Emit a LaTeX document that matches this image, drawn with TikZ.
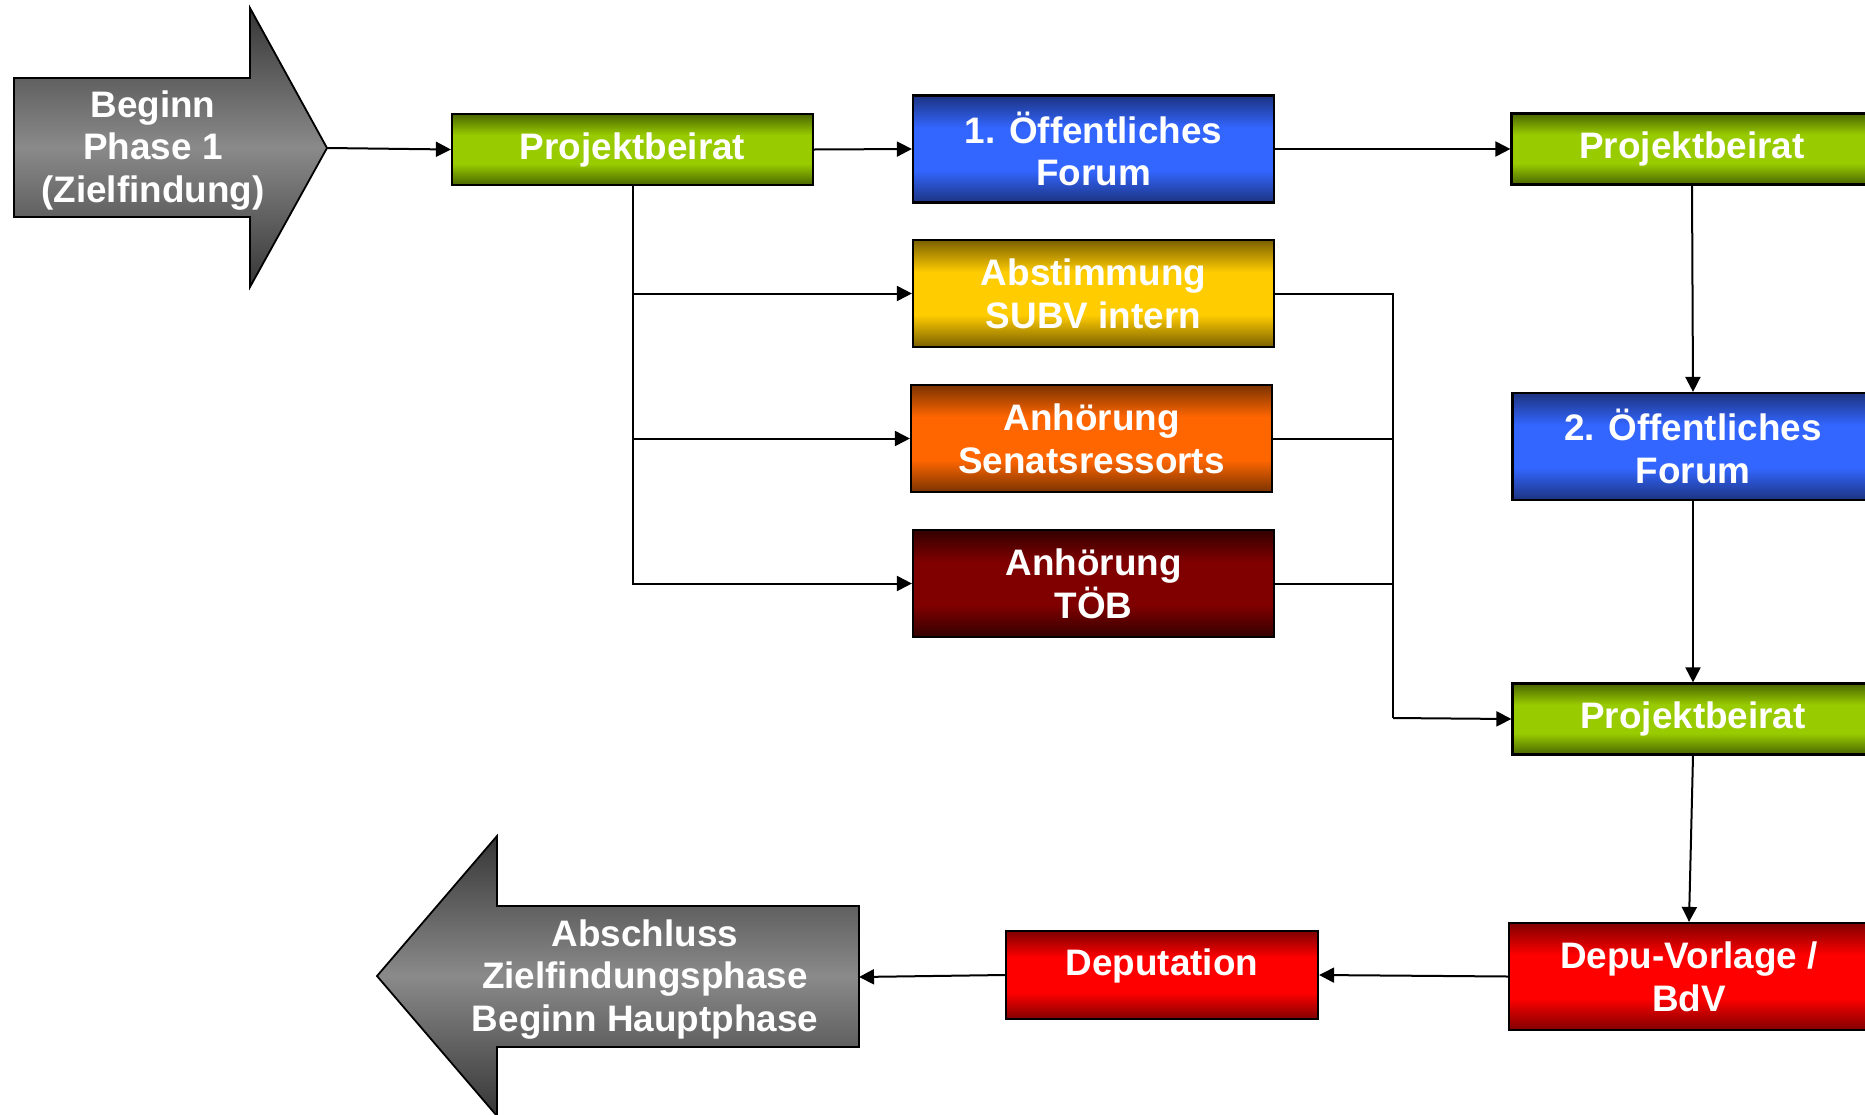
\documentclass[tikz,border=0pt]{standalone}
\usepackage{fontspec}
\setmainfont{Liberation Sans}
\usetikzlibrary{arrows.meta}
\definecolor{gD}{HTML}{4A6600}\definecolor{gM}{HTML}{99CC00}
\definecolor{bD}{HTML}{1C3380}\definecolor{bM}{HTML}{3366FF}
\definecolor{yD}{HTML}{7A6000}\definecolor{yM}{HTML}{FFCC00}
\definecolor{oD}{HTML}{7A3300}\definecolor{oM}{HTML}{FF6600}
\definecolor{dD}{HTML}{330000}\definecolor{dM}{HTML}{800000}
\definecolor{rD}{HTML}{800000}\definecolor{rM}{HTML}{FF0000}
\definecolor{aD}{HTML}{363636}\definecolor{aM}{HTML}{8A8A8A}
\pgfdeclareverticalshading{shgreen}{100bp}{color(0bp)=(gD); color(25bp)=(gD); color(40bp)=(gM); color(60bp)=(gM); color(75bp)=(gD); color(100bp)=(gD)}
\pgfdeclareverticalshading{shblue}{100bp}{color(0bp)=(bD); color(25bp)=(bD); color(40bp)=(bM); color(60bp)=(bM); color(75bp)=(bD); color(100bp)=(bD)}
\pgfdeclareverticalshading{shyellow}{100bp}{color(0bp)=(yD); color(25bp)=(yD); color(40bp)=(yM); color(60bp)=(yM); color(75bp)=(yD); color(100bp)=(yD)}
\pgfdeclareverticalshading{shorange}{100bp}{color(0bp)=(oD); color(25bp)=(oD); color(40bp)=(oM); color(60bp)=(oM); color(75bp)=(oD); color(100bp)=(oD)}
\pgfdeclareverticalshading{shdred}{100bp}{color(0bp)=(dD); color(25bp)=(dD); color(40bp)=(dM); color(60bp)=(dM); color(75bp)=(dD); color(100bp)=(dD)}
\pgfdeclareverticalshading{shred}{100bp}{color(0bp)=(rD); color(25bp)=(rD); color(40bp)=(rM); color(60bp)=(rM); color(75bp)=(rD); color(100bp)=(rD)}
\pgfdeclareverticalshading{shgrey}{100bp}{color(0bp)=(aD); color(25bp)=(aD); color(50bp)=(aM); color(75bp)=(aD); color(100bp)=(aD)}
\tikzset{
  box/.style={draw=black, line width=2.2bp, minimum width=361bp, minimum height=107bp,
    inner sep=0pt, text=white, align=center, font=\bfseries\fontsize{37}{43}\selectfont},
  pbbox/.style={box, shading=shgreen, minimum height=71bp},
  bluebox/.style={box, shading=shblue},
  yellowbox/.style={box, shading=shyellow},
  orangebox/.style={box, shading=shorange},
  dredbox/.style={box, shading=shdred},
  redbox/.style={box, shading=shred},
  bigarrow/.style={draw=black, line width=1.8bp, shading=shgrey},
  arrowtext/.style={text=white, align=center, font=\bfseries\fontsize{37}{43}\selectfont},
  conn/.style={draw=black, line width=2bp, -{Triangle[length=15bp,width=15bp]}},
  plain/.style={draw=black, line width=2bp}
}
\begin{document}
\begin{tikzpicture}[x=1bp,y=-1bp]
\clip (0,0) rectangle (1865,1114);
\fill[white] (0,0) rectangle (1865,1114);
% big arrows
\path[bigarrow] (14,78) -- (250,78) -- (250,8) -- (327,148) -- (250,287) -- (250,217) -- (14,217) -- cycle;
\node[arrowtext] (beg) at (153,150.5) {Beginn\\Phase 1\\(Zielfindung)};
\coordinate (btip) at (327,148);
\path[bigarrow] (859,906) -- (497,906) -- (497,836) -- (377,976) -- (497,1116) -- (497,1047) -- (859,1047) -- cycle;
\node[arrowtext] (absch) at (645,979.5) {Abschluss\\Zielfindungsphase\\Beginn Hauptphase};
\coordinate (atail) at (859,977);
% boxes
\node[pbbox] (pb1) at (632.5,149.5) {Projektbeirat};
\node[bluebox] (f1) at (1093.5,149) {1. Öffentliches\\Forum};
\node[yellowbox] (ab) at (1093.5,293.5) {Abstimmung\\SUBV intern};
\node[orangebox] (se) at (1091.5,438.5) {Anhörung\\Senatsressorts};
\node[dredbox] (toeb) at (1093.5,583.5) {Anhörung\\TÖB};
\node[pbbox] (pb2) at (1692,149) {Projektbeirat};
\node[bluebox] (f2) at (1693,446.5) {2. Öffentliches\\Forum};
\node[pbbox] (pb3) at (1693,719) {Projektbeirat};
\node[redbox, minimum width=360bp] (depu) at (1689,976.5) {Depu-Vorlage /\\BdV};
\node[redbox, minimum width=312bp, minimum height=88bp] (dep) at (1162,975) {\raisebox{9bp}[\height][\depth]{Deputation}};
\coordinate (jn) at (1393,718);
% connectors
\draw[conn] (btip) -- (pb1.west);
\draw[conn] (pb1.east) -- (f1.west);
\draw[conn] (f1.east) -- (pb2.west);
\draw[conn] (pb1.south) |- (ab.west);
\draw[conn] (pb1.south) |- (se.west);
\draw[conn] (pb1.south) |- (toeb.west);
\draw[plain] (ab.east) -| (jn);
\draw[plain] (se.east) -| (jn);
\draw[plain] (toeb.east) -| (jn);
\draw[conn] (jn) -- (pb3.west);
\draw[conn] (pb2.south) -- (f2.north);
\draw[conn] (f2.south) -- (pb3.north);
\draw[conn] (pb3.south) -- (depu.north);
\draw[conn] (depu.west) -- (dep.east);
\draw[conn] (dep.west) -- (atail);
\end{tikzpicture}
\end{document}
